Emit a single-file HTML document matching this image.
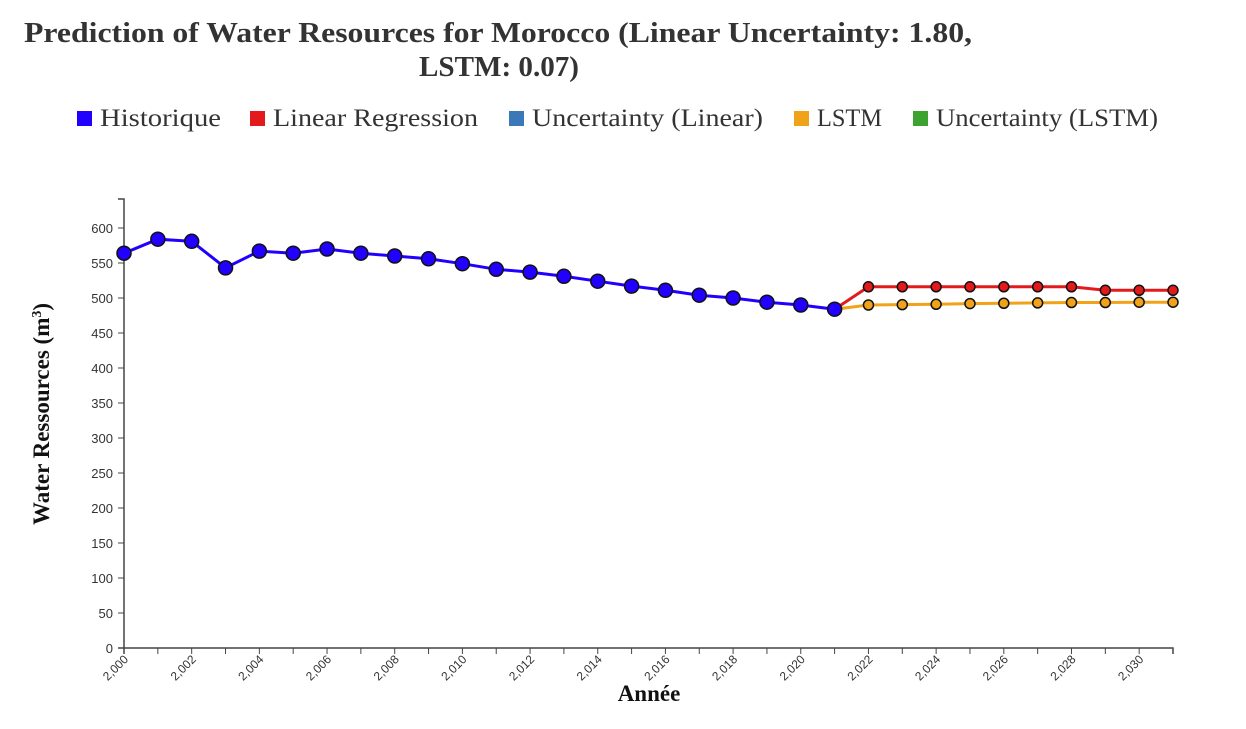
<!DOCTYPE html>
<html><head><meta charset="utf-8"><style>
body{margin:0;background:#fff;width:1246px;height:724px;overflow:hidden}
svg text{font-family:"Liberation Sans",sans-serif}
.serif{font-family:"Liberation Serif",serif !important}
</style></head><body>
<svg id="c" width="1246" height="724">
<text class="serif" x="24" y="42" textLength="948" lengthAdjust="spacingAndGlyphs" font-size="28" font-weight="bold" fill="#333">Prediction of Water Resources for Morocco (Linear Uncertainty: 1.80,</text>
<text class="serif" x="419" y="76" textLength="160" lengthAdjust="spacingAndGlyphs" font-size="28" font-weight="bold" fill="#333">LSTM: 0.07)</text>
<g id="legend"></g>
<g id="axes"></g>
<g id="marks"></g>
<text class="serif" x="649" y="701" text-anchor="middle" font-size="23" font-weight="bold" fill="#111">Année</text>
<text class="serif" transform="translate(49,414) rotate(-90)" text-anchor="middle" font-size="23" font-weight="bold" fill="#111">Water Ressources (m<tspan font-size="14" dy="-8">3</tspan><tspan dy="8">)</tspan></text>
</svg>
<script>
const histYears=[2000,2001,2002,2003,2004,2005,2006,2007,2008,2009,2010,2011,2012,2013,2014,2015,2016,2017,2018,2019,2020,2021];
const histValues=[564,584,581,543,567,564,570,564,560,556,549,541,537,531,524,517,511,504,500,494,490,484];
const predYears=[2021,2022,2023,2024,2025,2026,2027,2028,2029,2030,2031];
const linearValues=[484,516,516,516,516,516,516,516,511,511,511];
const lstmValues=[484,490,490.5,491,492,492.5,493,493.5,493.5,494,494];
const yTicks=[0,50,100,150,200,250,300,350,400,450,500,550,600];
const xTicks=[2000,2002,2004,2006,2008,2010,2012,2014,2016,2018,2020,2022,2024,2026,2028,2030];
const legendLabels=["Historique","Linear Regression","Uncertainty (Linear)","LSTM","Uncertainty (LSTM)"];
const legendColors=["#2200ff","#e31a1c","#3a78b8","#f0a319","#3da22f"];
const NS="http://www.w3.org/2000/svg";
const x=v=>124+(v-2000)*(1173-124)/31;
const y=v=>648-v*0.7;
function mk(t,a,p){const e=document.createElementNS(NS,t);for(const k in a)e.setAttribute(k,a[k]);p.appendChild(e);return e;}
const lg=document.getElementById('legend');
const lx=[77,250,509,794,913];
const lw=[121,205,231,65,222];
legendLabels.forEach((l,i)=>{
 const r=mk('rect',{x:lx[i],y:111,width:15,height:15,fill:legendColors[i]},lg);
 
 
 const t=mk('text',{x:lx[i]+23,y:126,'font-size':25,fill:'#333',class:'serif',textLength:lw[i],lengthAdjust:'spacingAndGlyphs'},lg);
 t.textContent=l;
 
 
});
const ax=document.getElementById('axes');
const ya=mk('path',{d:'M118,199H124V648H118',fill:'none',stroke:'#444','stroke-width':1.5},ax);


yTicks.forEach(v=>{
 mk('line',{x1:118,x2:124,y1:y(v),y2:y(v),stroke:'#444'},ax);
 const t=mk('text',{x:113,y:y(v)+5,'text-anchor':'end','font-size':13,fill:'#333'},ax);
 t.textContent=v;
 
 
});
const xa=mk('path',{d:'M124,654V648H1173V654',fill:'none',stroke:'#444','stroke-width':1.5},ax);


for(let v=2000;v<=2031;v++)mk('line',{x1:x(v),x2:x(v),y1:648,y2:654,stroke:'#444'},ax);
xTicks.forEach(v=>{
 const t=mk('text',{transform:`translate(${x(v)+5},${660}) rotate(-45)`,'text-anchor':'end','font-size':12,fill:'#333'},ax);
 t.textContent=(v/1000).toFixed(3).replace('.',',');
 
 
});
const mg=document.getElementById('marks');
function series(xs,vs,col,r,name){
 const d=xs.map((v,i)=>(i?'L':'M')+x(v)+','+y(vs[i])).join('');
 const p=mk('path',{d,fill:'none',stroke:col,'stroke-width':3},mg);
 
 
 return ()=>xs.forEach((v,i)=>{
  const c=mk('circle',{cx:x(v),cy:y(vs[i]),r,fill:col,stroke:'#111','stroke-width':1.5},mg);
  
  
 });
}
const a=series(predYears,linearValues,'#e31a1c',5,'linear');
const b=series(predYears,lstmValues,'#f0a319',5,'lstm');
const h=series(histYears,histValues,'#2200ff',7,'historique');
const aPts=()=>{};
mg.querySelectorAll('path');
(function(){ // draw prediction points except the 2021 anchor
 [[predYears,linearValues,'#e31a1c','linear'],[predYears,lstmValues,'#f0a319','lstm']].forEach(([xs,vs,col,name])=>{
  xs.forEach((v,i)=>{ if(i===0)return;
   const c=mk('circle',{cx:x(v),cy:y(vs[i]),r:5,fill:col,stroke:'#111','stroke-width':1.5},mg);
   
   
  });
 });
})();
h();
</script>
</body></html>
